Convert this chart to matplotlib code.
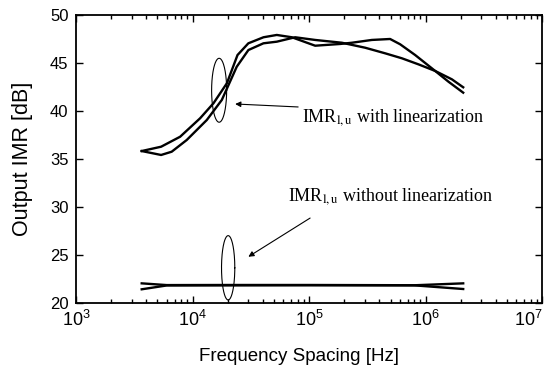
import numpy as np
import matplotlib
matplotlib.use('Agg')
import matplotlib.pyplot as plt

plt.rcParams['font.family'] = ['Liberation Sans', 'DejaVu Sans']
plt.rcParams['mathtext.fontset'] = 'stix'

# with linearization (two curves)
freq_a = [3660, 5370, 6620, 8910, 13240, 17820, 23930, 30130, 40550, 52840,
          75860, 112700, 191000, 302700, 448700, 625200, 867000, 1208000, 1679000, 2100000]
imr_a = [35.83, 35.42, 35.76, 36.98, 39.06, 41.15, 44.61, 46.35, 47.05, 47.22,
         47.68, 47.40, 47.11, 46.59, 46.01, 45.49, 44.86, 44.17, 43.30, 42.47]
freq_b = [3660, 5370, 7820, 11600, 15100, 19700, 24300, 30100, 40600, 52800,
          71100, 112700, 184500, 232800, 345100, 495500, 604000, 812800, 1130000, 1570000, 2100000]
imr_b = [35.83, 36.28, 37.32, 39.24, 40.80, 42.89, 45.83, 47.05, 47.68, 47.92,
         47.68, 46.80, 46.98, 47.11, 47.40, 47.50, 46.95, 45.83, 44.45, 43.05, 41.91]

# without linearization (two curves)
freq_c = [3660, 6000, 20000, 100000, 500000, 800000, 2100000]
imr_c = [22.05, 21.87, 21.88, 21.88, 21.86, 21.84, 21.46]
freq_d = [3660, 6000, 20000, 100000, 500000, 800000, 2100000]
imr_d = [21.43, 21.83, 21.84, 21.85, 21.84, 21.85, 22.05]

xticks = [1e3, 1e4, 1e5, 1e6, 1e7]
xtick_labels = [r'$\mathdefault{10^{3}}$', r'$\mathdefault{10^{4}}$', r'$\mathdefault{10^{5}}$',
                r'$\mathdefault{10^{6}}$', r'$\mathdefault{10^{7}}$']
yticks = [20, 25, 30, 35, 40, 45, 50]

fig, ax = plt.subplots(figsize=(5.51, 3.70), dpi=100)
fig.subplots_adjust(left=0.138, right=0.984, bottom=0.181, top=0.9595)

for f, v in [(freq_a, imr_a), (freq_b, imr_b), (freq_c, imr_c), (freq_d, imr_d)]:
    ax.plot(f, v, color='k', lw=1.7)

# ellipses marking the curve groups
t = np.linspace(0, 2 * np.pi, 200)
for cx, cy, hw, hh in [(1.69e4, 42.16, 0.0645, 3.33), (2.02e4, 23.67, 0.057, 3.35)]:
    ax.plot(10 ** (np.log10(cx) + hw * np.cos(t)), cy + hh * np.sin(t), color='k', lw=0.8)

arrow = dict(arrowstyle='-|>', lw=0.8, color='k', mutation_scale=8, shrinkA=0, shrinkB=0)
ax.annotate('', xy=(23200, 40.73), xytext=(80500, 40.42), arrowprops=arrow)
ax.annotate('', xy=(30100, 24.82), xytext=(102000, 28.85), arrowprops=arrow)
ax.text(87100, 38.85, r'IMR$_{\rm l,u}$ with linearization', family='Liberation Serif',
        fontsize=13, va='baseline', ha='left')
ax.text(66100, 30.63, r'IMR$_{\rm l,u}$ without linearization', family='Liberation Serif',
        fontsize=13, va='baseline', ha='left')

ax.set_xscale('log')
ax.set_xlim(1e3, 1e7)
ax.set_ylim(20, 50)
ax.set_xticks(xticks, xtick_labels)
ax.set_yticks(yticks)
ax.tick_params(which='both', direction='in', top=True, right=True, width=1)
ax.tick_params(which='major', length=5)
ax.tick_params(which='minor', length=3)
ax.tick_params(axis='y', labelsize=12, pad=5.5)
ax.tick_params(axis='x', labelsize=13, pad=5)
ax.get_xticklabels()[-1].set_horizontalalignment('right')
for s in ax.spines.values():
    s.set_linewidth(1.3)

ax.set_xlabel('Frequency Spacing [Hz]', fontsize=13.5)
ax.xaxis.set_label_coords(0.4775, -0.155)
ax.set_ylabel('Output IMR [dB]', fontsize=15.5)
ax.yaxis.set_label_coords(-0.092, 0.5)

fig.savefig('out.png', dpi=100)
